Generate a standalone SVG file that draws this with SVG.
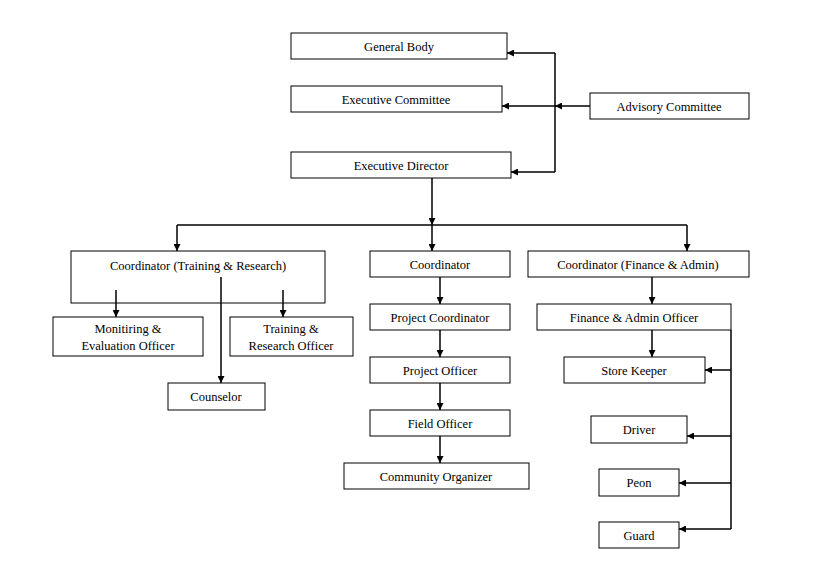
<svg xmlns="http://www.w3.org/2000/svg" width="827" height="571" viewBox="0 0 827 571">
<style>
rect{fill:#fff;stroke:#000;stroke-width:1}
text{font-family:"Liberation Serif",serif;font-size:12.5px;text-anchor:middle;fill:#000}
.c path{fill:none;stroke:#000;stroke-width:1.5}
</style>
<defs><marker id="a" viewBox="0 0 10 10" refX="10" refY="5" markerWidth="7" markerHeight="7" markerUnits="userSpaceOnUse" orient="auto"><path d="M0,0L10,5L0,10z" fill="#000"/></marker></defs>
<rect width="827" height="571" style="stroke:none"/>
<g id="gb"><rect x="291" y="33" width="216" height="26"/><text x="399" y="51">General Body</text></g>
<g id="ec"><rect x="291" y="86" width="211" height="26"/><text x="396" y="104">Executive Committee</text></g>
<g id="ed"><rect x="291" y="152" width="220" height="26"/><text x="401" y="170">Executive Director</text></g>
<g id="ac"><rect x="590" y="93" width="159" height="26"/><text x="669" y="111">Advisory Committee</text></g>
<g id="ctr"><rect x="71" y="251" width="254" height="52"/><text x="198" y="270">Coordinator (Training &amp; Research)</text></g>
<g id="me"><rect x="53" y="317" width="150" height="39"/><text x="128" y="333">Monitiring &amp;</text><text x="128" y="350">Evaluation Officer</text></g>
<g id="tro"><rect x="230" y="317" width="123" height="39"/><text x="291" y="333">Training &amp;</text><text x="291" y="350">Research Officer</text></g>
<g id="cou"><rect x="168" y="383" width="97" height="27"/><text x="216" y="401">Counselor</text></g>
<g id="co"><rect x="370" y="251" width="140" height="26"/><text x="440" y="269">Coordinator</text></g>
<g id="pc"><rect x="370" y="304" width="140" height="26"/><text x="440" y="322">Project Coordinator</text></g>
<g id="po"><rect x="370" y="357" width="140" height="26"/><text x="440" y="375">Project Officer</text></g>
<g id="fo"><rect x="370" y="410" width="140" height="26"/><text x="440" y="428">Field Officer</text></g>
<g id="cmo"><rect x="344" y="463" width="185" height="26"/><text x="436" y="481">Community Organizer</text></g>
<g id="cfa"><rect x="528" y="251" width="221" height="26"/><text x="638" y="269">Coordinator (Finance &amp; Admin)</text></g>
<g id="fao"><rect x="537" y="304" width="194" height="26"/><text x="634" y="322">Finance &amp; Admin Officer</text></g>
<g id="sk"><rect x="564" y="357" width="141" height="26"/><text x="634" y="375">Store Keeper</text></g>
<g id="dr"><rect x="591" y="416" width="96" height="27"/><text x="639" y="434">Driver</text></g>
<g id="pe"><rect x="599" y="469" width="80" height="27"/><text x="639" y="487">Peon</text></g>
<g id="gu"><rect x="599" y="522" width="80" height="26"/><text x="639" y="540">Guard</text></g>
<g class="c">
<path d="M555,53V172"/>
<path d="M555,53H507" marker-end="url(#a)"/>
<path d="M555,106H502" marker-end="url(#a)"/>
<path d="M555,172H511" marker-end="url(#a)"/>
<path d="M590,106H555" marker-end="url(#a)"/>
<path d="M432,178V225" marker-end="url(#a)"/>
<path d="M177,225H687"/>
<path d="M177,225V251" marker-end="url(#a)"/>
<path d="M432,225V251" marker-end="url(#a)"/>
<path d="M687,225V251" marker-end="url(#a)"/>
<path d="M116,290V317" marker-end="url(#a)"/>
<path d="M283,290V317" marker-end="url(#a)"/>
<path d="M221,277V383" marker-end="url(#a)"/>
<path d="M440,277V304" marker-end="url(#a)"/>
<path d="M440,330V357" marker-end="url(#a)"/>
<path d="M440,383V410" marker-end="url(#a)"/>
<path d="M440,436V463" marker-end="url(#a)"/>
<path d="M652,277V304" marker-end="url(#a)"/>
<path d="M652,330V357" marker-end="url(#a)"/>
<path d="M731,330V529"/>
<path d="M731,370H705" marker-end="url(#a)"/>
<path d="M731,436H687" marker-end="url(#a)"/>
<path d="M731,483H679" marker-end="url(#a)"/>
<path d="M731,529H679" marker-end="url(#a)"/>
</g>
</svg>
